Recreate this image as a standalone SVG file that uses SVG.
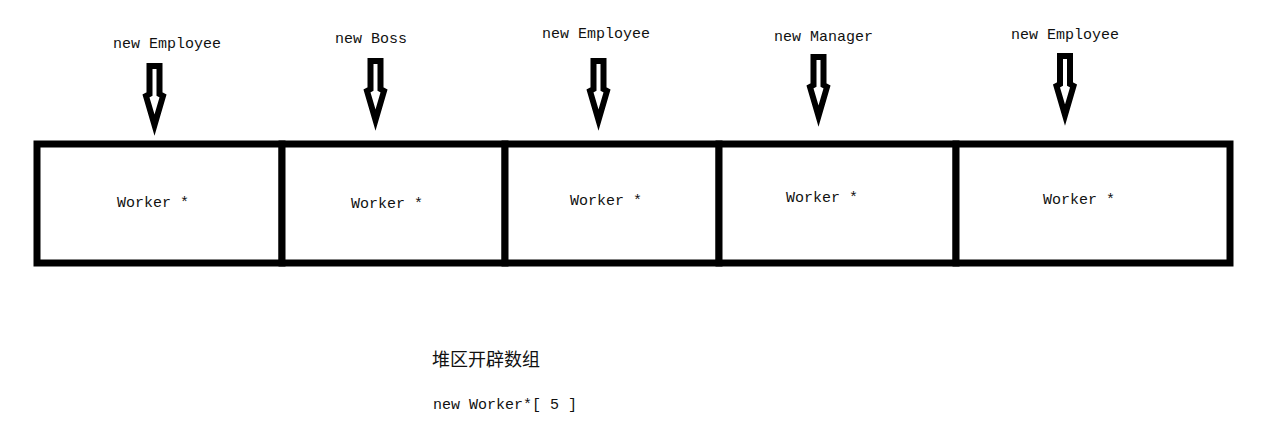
<svg xmlns="http://www.w3.org/2000/svg" xmlns:xlink="http://www.w3.org/1999/xlink" width="1264" height="427" viewBox="0 0 1264 427">
  <style>
    .cell { fill: #ffffff; stroke: #000000; stroke-width: 7; }
    .mono { font-family: "Liberation Mono", "DejaVu Sans Mono", monospace; font-size: 15px; fill: #111111; }
    .cjk { font-family: "Noto Sans CJK SC", "Noto Sans CJK TC", sans-serif; font-size: 18px; fill: #111111; }
    .arrow { fill: #ffffff; stroke: #000000; stroke-width: 6; stroke-linejoin: miter; stroke-miterlimit: 4; }
  </style>
  <defs>
    <path id="blockArrow" class="arrow" d="M -5,3 L 5,3 L 5,31 L 8.5,33 L 0,62 L -8.5,33 L -5,31 Z"/>
  </defs>
  <rect x="0" y="0" width="1264" height="427" fill="#ffffff"/>

  <g id="cell1">
    <rect class="cell" x="37" y="144" width="245" height="119"/>
    <text class="mono" x="117" y="207">Worker *</text>
  </g>
  <g id="cell2">
    <rect class="cell" x="282" y="144" width="223" height="119"/>
    <text class="mono" x="351" y="208">Worker *</text>
  </g>
  <g id="cell3">
    <rect class="cell" x="505" y="144" width="214" height="119"/>
    <text class="mono" x="570" y="205">Worker *</text>
  </g>
  <g id="cell4">
    <rect class="cell" x="719" y="144" width="237" height="119"/>
    <text class="mono" x="786" y="202">Worker *</text>
  </g>
  <g id="cell5">
    <rect class="cell" x="956" y="144" width="274" height="119"/>
    <text class="mono" x="1043" y="204">Worker *</text>
  </g>

  <g id="label1"><text class="mono" x="113" y="48">new Employee</text></g>
  <g id="label2"><text class="mono" x="335" y="43">new Boss</text></g>
  <g id="label3"><text class="mono" x="542" y="38">new Employee</text></g>
  <g id="label4"><text class="mono" x="774" y="41">new Manager</text></g>
  <g id="label5"><text class="mono" x="1011" y="39">new Employee</text></g>

  <g id="connectors">
    <use xlink:href="#blockArrow" transform="translate(154.5,63)"/>
    <use xlink:href="#blockArrow" transform="translate(375.5,58)"/>
    <use xlink:href="#blockArrow" transform="translate(598.5,58)"/>
    <use xlink:href="#blockArrow" transform="translate(818.5,54)"/>
    <use xlink:href="#blockArrow" transform="translate(1065,53)"/>
  </g>

  <g id="caption">
    <text class="cjk" x="432" y="366">堆区开辟数组</text>
    <text class="mono" x="433" y="409">new Worker*[ 5 ]</text>
  </g>
</svg>
